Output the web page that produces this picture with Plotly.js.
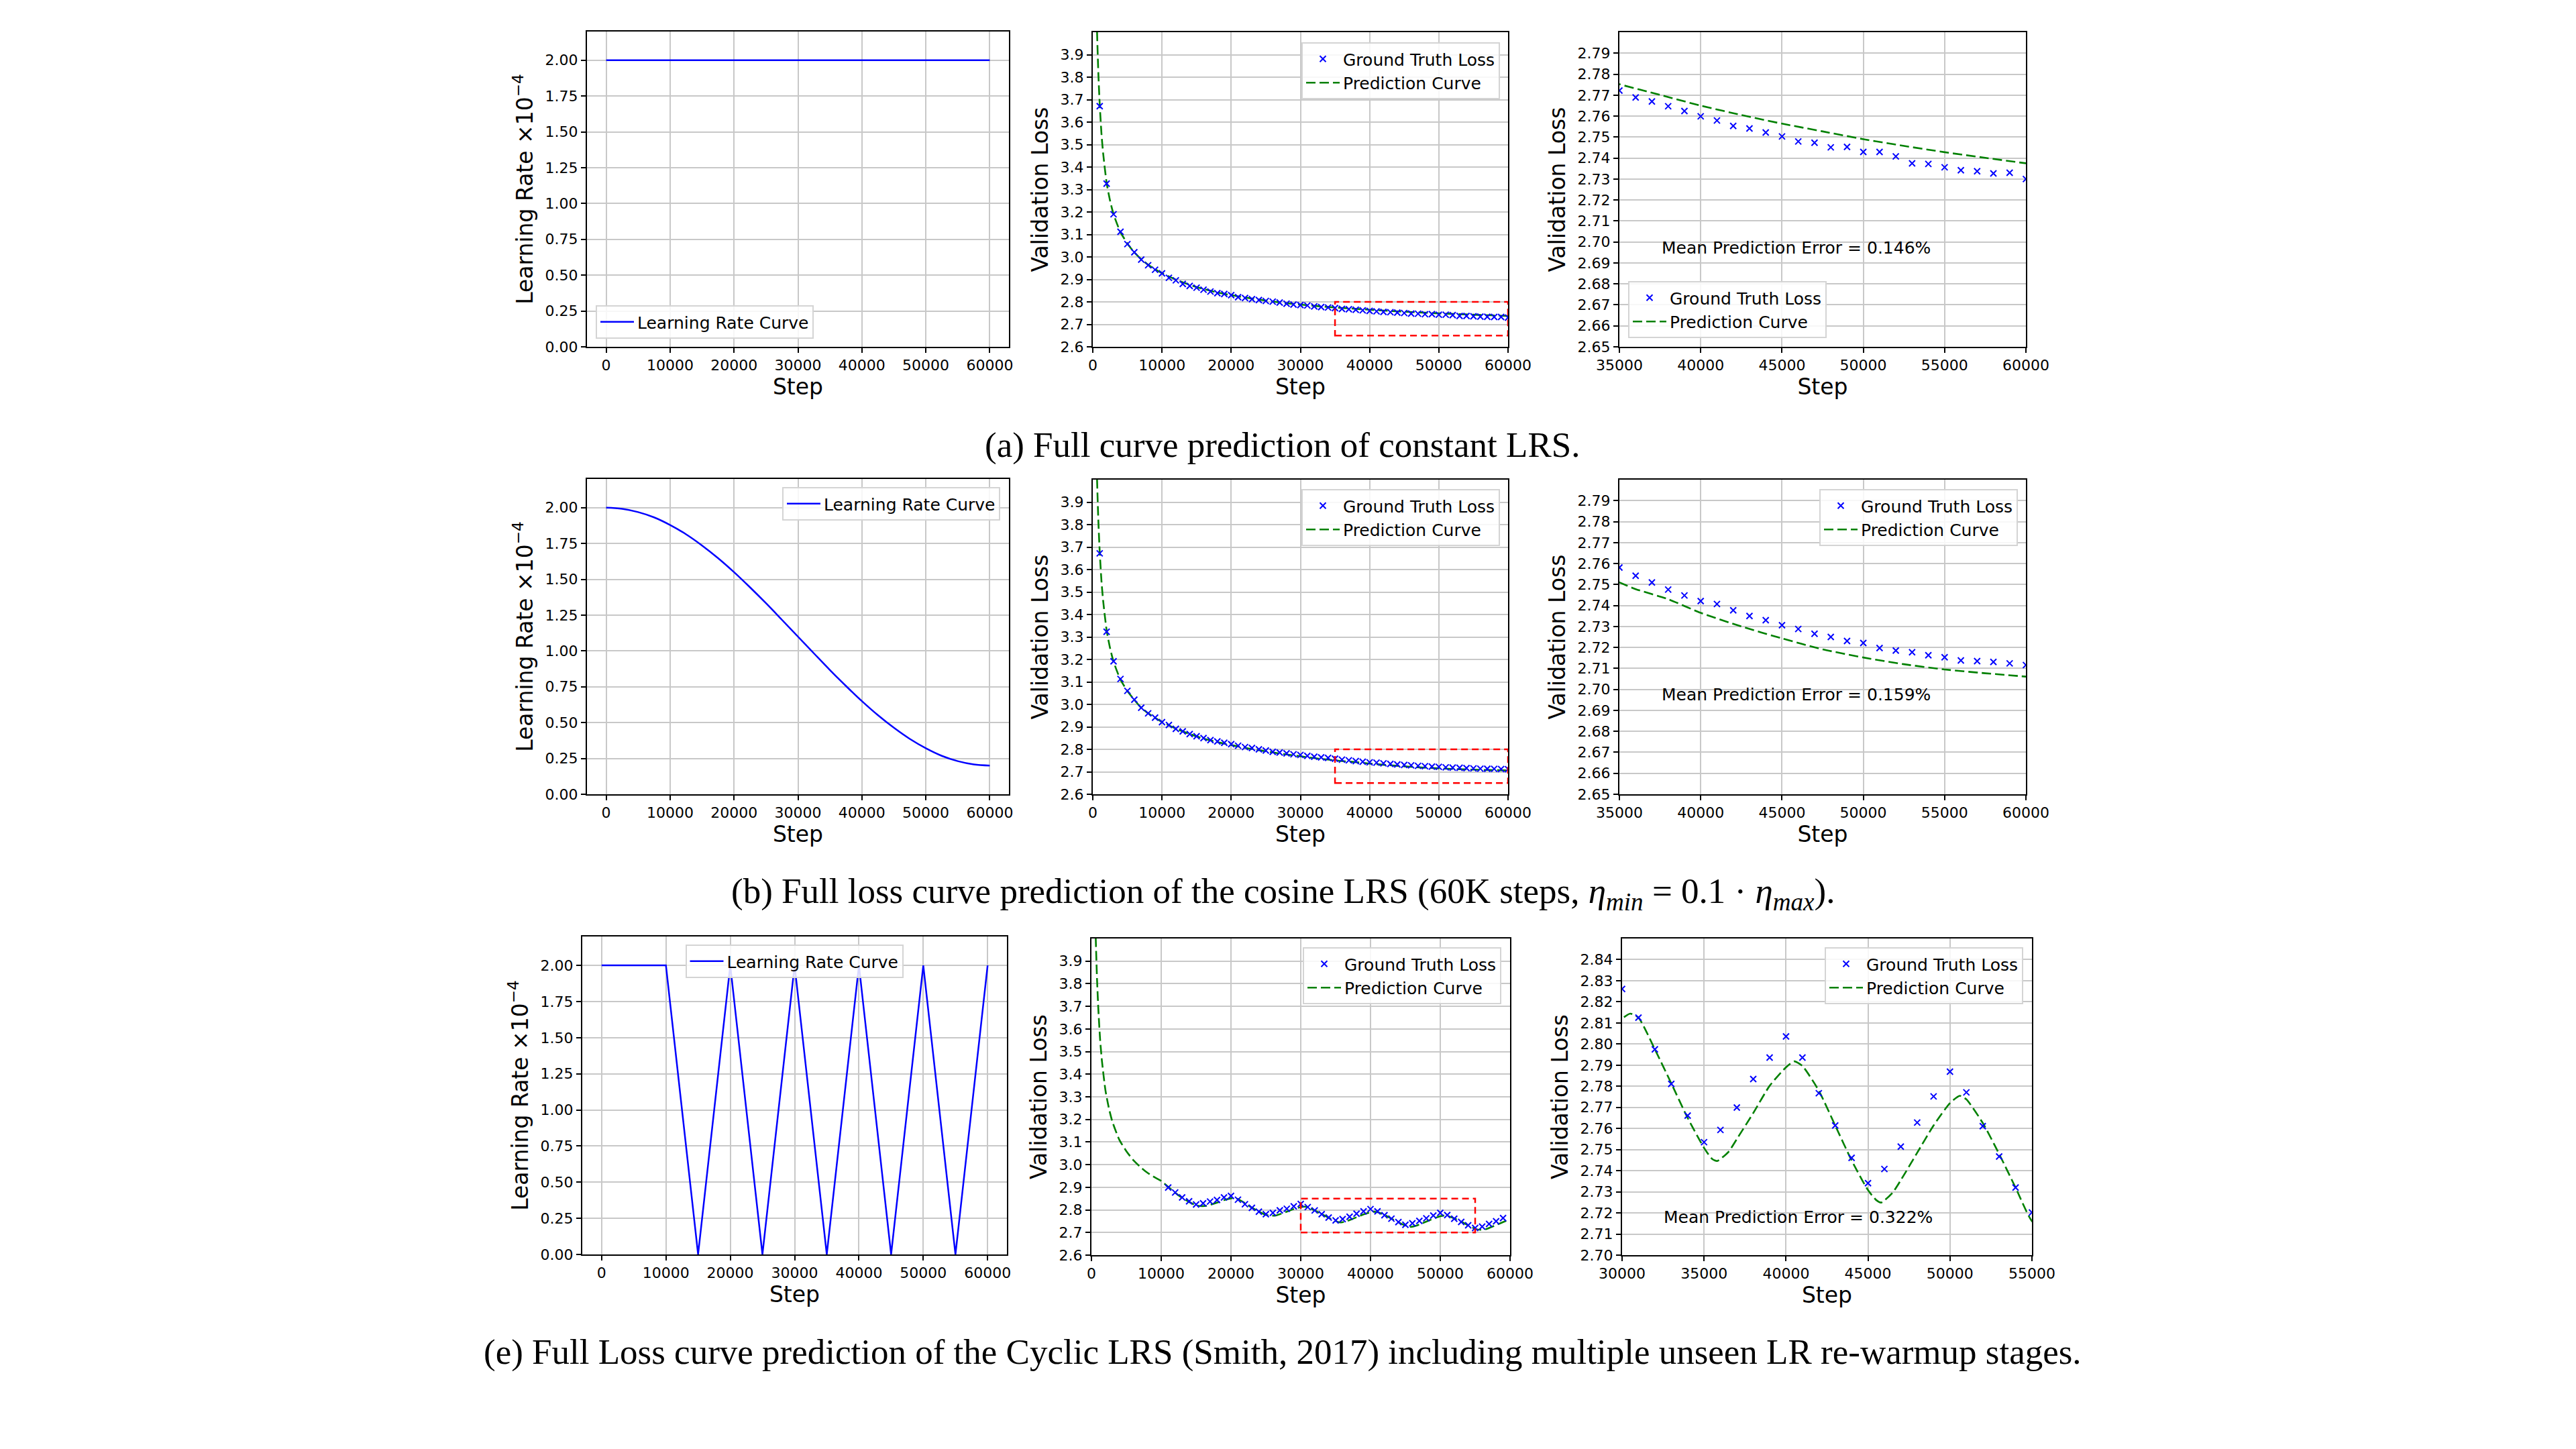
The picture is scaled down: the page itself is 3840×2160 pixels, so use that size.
<!DOCTYPE html>
<html>
<head>
<meta charset="utf-8">
<script src="https://cdn.plot.ly/plotly-3.0.1.min.js"></script>
<style>html,body{margin:0;padding:0;background:#fff}#chart{width:3840px;height:2160px}</style>
</head>
<body>
<div id="chart"></div>
<script>
// ---------------- DATA ----------------
// Learning-rate schedules (x10^-4)
const lrStepsConst = [0, 60000];
const lrConst = [2.0, 2.0];

const lrStepsCos = [0, 2500, 5000, 7500, 10000, 12500, 15000, 17500, 20000, 22500, 25000, 27500, 30000,
  32500, 35000, 37500, 40000, 42500, 45000, 47500, 50000, 52500, 55000, 57500, 60000];
const lrCos = [2.000, 1.992, 1.969, 1.932, 1.879, 1.814, 1.736, 1.648, 1.550, 1.444, 1.333, 1.217, 1.100,
  0.983, 0.867, 0.756, 0.650, 0.552, 0.464, 0.386, 0.321, 0.268, 0.231, 0.208, 0.200];

const lrStepsCyc = [0, 10000, 15000, 20000, 25000, 30000, 35000, 40000, 45000, 50000, 55000, 60000];
const lrCyc = [2.0, 2.0, 0.0, 2.0, 0.0, 2.0, 0.0, 2.0, 0.0, 2.0, 0.0, 2.0];

// Ground-truth validation loss
const gtSteps = [1000, 2000, 3000, 4000, 5000, 6000, 7000, 8000, 9000, 10000,
  11000, 12000, 13000, 14000, 15000, 16000, 17000, 18000, 19000, 20000,
  21000, 22000, 23000, 24000, 25000, 26000, 27000, 28000, 29000, 30000,
  31000, 32000, 33000, 34000, 35000, 36000, 37000, 38000, 39000, 40000,
  41000, 42000, 43000, 44000, 45000, 46000, 47000, 48000, 49000, 50000,
  51000, 52000, 53000, 54000, 55000, 56000, 57000, 58000, 59000, 60000];
const gtConst = [3.671, 3.326, 3.190, 3.112, 3.057, 3.021, 2.988, 2.963, 2.943, 2.927,
  2.907, 2.896, 2.880, 2.871, 2.863, 2.854, 2.846, 2.839, 2.835, 2.830,
  2.821, 2.817, 2.812, 2.808, 2.804, 2.801, 2.797, 2.792, 2.788, 2.786,
  2.784, 2.780, 2.777, 2.775, 2.7722, 2.7689, 2.7670, 2.7647, 2.7624, 2.7599,
  2.7579, 2.7553, 2.7541, 2.7522, 2.7503, 2.7479, 2.7473, 2.7451, 2.7453, 2.7429,
  2.7429, 2.7408, 2.7375, 2.7372, 2.7356, 2.7342, 2.7337, 2.7327, 2.7330, 2.7300];
const gtCos = [3.672, 3.323, 3.192, 3.113, 3.060, 3.021, 2.985, 2.960, 2.941, 2.921,
  2.908, 2.891, 2.880, 2.868, 2.858, 2.850, 2.841, 2.835, 2.829, 2.823,
  2.816, 2.810, 2.806, 2.800, 2.795, 2.789, 2.786, 2.782, 2.778, 2.775,
  2.771, 2.767, 2.764, 2.762, 2.7581, 2.7542, 2.7510, 2.7476, 2.7448, 2.7421,
  2.7407, 2.7377, 2.7350, 2.7330, 2.7306, 2.7288, 2.7265, 2.7250, 2.7231, 2.7221,
  2.7197, 2.7185, 2.7177, 2.7163, 2.7153, 2.7138, 2.7135, 2.7131, 2.7124, 2.7116];
const gtStepsCyc = [11000, 12000, 13000, 14000, 15000, 16000, 17000, 18000, 19000, 20000,
  21000, 22000, 23000, 24000, 25000, 26000, 27000, 28000, 29000, 30000,
  31000, 32000, 33000, 34000, 35000, 36000, 37000, 38000, 39000, 40000,
  41000, 42000, 43000, 44000, 45000, 46000, 47000, 48000, 49000, 50000,
  51000, 52000, 53000, 54000, 55000, 56000, 57000, 58000, 59000];
const gtCyc = [2.899, 2.877, 2.855, 2.838, 2.824, 2.829, 2.837, 2.844, 2.855, 2.862,
  2.845, 2.825, 2.809, 2.792, 2.781, 2.787, 2.798, 2.805, 2.816, 2.8261,
  2.8125, 2.7975, 2.7811, 2.7661, 2.7535, 2.7593, 2.7699, 2.7834, 2.7936, 2.8036,
  2.7936, 2.7767, 2.7614, 2.7461, 2.7341, 2.7408, 2.7514, 2.7628, 2.7752, 2.7869,
  2.7771, 2.7611, 2.7467, 2.7320, 2.7202, 2.726, 2.738, 2.750, 2.764];

// Prediction curves
const predStepsConst = [400, 600, 800, 1000, 1250, 1500, 2000, 2500, 3000, 4000, 5000, 6000, 7000, 8000, 9000, 10000,
  12000, 14000, 16000, 18000, 20000, 22500, 25000, 27500, 30000, 32500, 35000, 37500, 40000, 42500, 45000,
  47500, 50000, 52500, 55000, 57500, 60000];
const predConst = [4.30, 4.02, 3.82, 3.68, 3.55, 3.46, 3.33, 3.25, 3.19, 3.11, 3.06, 3.02, 2.99, 2.965, 2.945, 2.928,
  2.899, 2.876, 2.857, 2.842, 2.830, 2.817, 2.806, 2.796, 2.788, 2.781, 2.7752, 2.7701, 2.7650, 2.7605, 2.7564,
  2.7527, 2.7490, 2.7458, 2.7428, 2.7401, 2.7375];
const predStepsCos = [400, 600, 800, 1000, 1250, 1500, 2000, 2500, 3000, 4000, 5000, 6000, 7000, 8000, 9000, 10000,
  12000, 14000, 16000, 18000, 20000, 22500, 25000, 27500, 30000, 32500, 35000, 36000, 38000, 40000, 42500,
  45000, 47500, 50000, 52500, 55000, 57500, 60000];
const predCos = [4.30, 4.02, 3.82, 3.68, 3.55, 3.46, 3.33, 3.25, 3.19, 3.11, 3.06, 3.02, 2.985, 2.96, 2.94, 2.922,
  2.892, 2.868, 2.848, 2.832, 2.819, 2.804, 2.791, 2.779, 2.769, 2.759, 2.7510, 2.7478, 2.7430, 2.7365, 2.7300,
  2.7243, 2.7191, 2.7152, 2.7120, 2.7095, 2.7077, 2.7061];
const predStepsCyc = [400, 600, 800, 1000, 1250, 1500, 2000, 2500, 3000, 4000, 5000, 6000, 7000, 8000, 9000, 10000,
  11000, 12000, 13000, 14000, 15000, 15800, 16500, 17000, 18000, 19000, 20000, 20500, 21000, 22000, 23000, 24000,
  25000, 25800, 26500, 27000, 28000, 29000, 30000, 30500, 31000, 32000, 33000, 34000, 35000, 35500, 35800, 36500,
  37000, 38000, 39000, 40000, 40500, 41000, 42000, 43000, 44000, 45000, 45500, 45800, 46500, 47000, 48000, 49000,
  50000, 50600, 51000, 52000, 53000, 54000, 55000, 55800, 56500, 57000, 58000, 59000, 60000];
const predCyc = [4.30, 4.02, 3.82, 3.68, 3.55, 3.46, 3.33, 3.25, 3.19, 3.11, 3.06, 3.02, 2.99, 2.965, 2.945, 2.928,
  2.902, 2.876, 2.853, 2.835, 2.820, 2.817, 2.818, 2.822, 2.832, 2.843, 2.851, 2.853, 2.848, 2.830, 2.810, 2.792,
  2.778, 2.774, 2.776, 2.781, 2.792, 2.804, 2.812, 2.8144, 2.8125, 2.7975, 2.7814, 2.765, 2.7508, 2.7455, 2.7446, 2.749,
  2.755, 2.7673, 2.7802, 2.789, 2.7918, 2.7896, 2.7779, 2.7614, 2.7449, 2.7308, 2.7261, 2.7249, 2.7296, 2.7355, 2.7485, 2.7614,
  2.772, 2.7755, 2.7738, 2.7626, 2.7479, 2.732, 2.7161, 2.712, 2.714, 2.72, 2.733, 2.746, 2.759];

// Tick values
const stepTicksFull = [0, 10000, 20000, 30000, 40000, 50000, 60000];
const stepTicksZoomA = [35000, 40000, 45000, 50000, 55000, 60000];
const stepTicksZoomE = [30000, 35000, 40000, 45000, 50000, 55000];
const lrTicks = [0, 0.25, 0.5, 0.75, 1.0, 1.25, 1.5, 1.75, 2.0];
const lossTicksFull = [2.6, 2.7, 2.8, 2.9, 3.0, 3.1, 3.2, 3.3, 3.4, 3.5, 3.6, 3.7, 3.8, 3.9];
const lossTicksZoomA = [2.65, 2.66, 2.67, 2.68, 2.69, 2.70, 2.71, 2.72, 2.73, 2.74, 2.75, 2.76, 2.77, 2.78, 2.79];
const lossTicksZoomE = [2.70, 2.71, 2.72, 2.73, 2.74, 2.75, 2.76, 2.77, 2.78, 2.79, 2.80, 2.81, 2.82, 2.83, 2.84];

const captions = [
  "(a) Full curve prediction of constant LRS.",
  "(b) Full loss curve prediction of the cosine LRS (60K steps, <i>η</i><sub><i>min</i></sub> = 0.1 · <i>η</i><sub><i>max</i></sub>).",
  "(e) Full Loss curve prediction of the Cyclic LRS (Smith, 2017) including multiple unseen LR re-warmup stages."
];
const mpeTexts = ["Mean Prediction Error = 0.146%", "Mean Prediction Error = 0.159%", "Mean Prediction Error = 0.322%"];

// ---------------- STYLE / LAYOUT ----------------
const W = 3840, H = 2160;
const FONT = 'DejaVu Sans';
const px2x = p => p / W;
const px2y = p => 1 - p / H;

// axes pixel boxes [left, right, top, bottom]
const boxes = [
  [875, 1504, 47, 517], [1629, 2248, 48, 517], [2414, 3020, 48, 517],
  [875, 1504, 714, 1184], [1629, 2248, 715, 1184], [2414, 3020, 715, 1184],
  [868, 1501, 1396, 1870], [1627, 2251, 1399, 1871], [2418, 3029, 1399, 1871]
];

function xAxis(i, range, tickvals, fmt) {
  const b = boxes[i];
  return {
    domain: [px2x(b[0]), px2x(b[1])], anchor: 'y' + (i ? i + 1 : ''), range: range,
    tickmode: 'array', tickvals: tickvals, tickformat: fmt,
    showgrid: true, gridcolor: '#c8c8c8', gridwidth: 2, zeroline: false,
    showline: true, mirror: true, linecolor: '#000', linewidth: 2,
    ticks: 'outside', ticklen: 7, tickwidth: 2, tickcolor: '#000',
    tickfont: {family: FONT, size: 22, color: '#000'},
    title: {text: 'Step', font: {family: FONT, size: 33, color: '#000'}, standoff: 4},
    automargin: false
  };
}
function yAxis(i, range, tickvals, fmt, title) {
  const b = boxes[i];
  return {
    domain: [px2y(b[3]), px2y(b[2])], anchor: 'x' + (i ? i + 1 : ''), range: range,
    tickmode: 'array', tickvals: tickvals, tickformat: fmt,
    showgrid: true, gridcolor: '#c8c8c8', gridwidth: 2, zeroline: false,
    showline: true, mirror: true, linecolor: '#000', linewidth: 2,
    ticks: 'outside', ticklen: 7, tickwidth: 2, tickcolor: '#000',
    tickfont: {family: FONT, size: 22, color: '#000'},
    title: {text: title, font: {family: FONT, size: 33, color: '#000'}, standoff: 8},
    automargin: false
  };
}

const LR_TITLE = 'Learning Rate ×10<sup>−4</sup>';
const LOSS_TITLE = 'Validation Loss';

const layout = {
  width: W, height: H, margin: {l: 0, r: 0, t: 0, b: 0},
  paper_bgcolor: '#fff', plot_bgcolor: '#fff', showlegend: true,
  font: {family: FONT, color: '#000'},
  shapes: [], annotations: []
};

const xRanges = [[-3000, 63000], [0, 60000], [35000, 60000]];
const rowsCfg = [
  {lrx: lrStepsConst, lry: lrConst, gty: gtConst, gtx: gtSteps, px: predStepsConst, py: predConst,
   zoomX: [35000, 60000], zoomY: [2.65, 2.80], zTicksX: stepTicksZoomA, zTicksY: lossTicksZoomA},
  {lrx: lrStepsCos, lry: lrCos, gty: gtCos, gtx: gtSteps, px: predStepsCos, py: predCos,
   zoomX: [35000, 60000], zoomY: [2.65, 2.80], zTicksX: stepTicksZoomA, zTicksY: lossTicksZoomA},
  {lrx: lrStepsCyc, lry: lrCyc, gty: gtCyc, gtx: gtStepsCyc, px: predStepsCyc, py: predCyc,
   zoomX: [30000, 55000], zoomY: [2.70, 2.85], zTicksX: stepTicksZoomE, zTicksY: lossTicksZoomE}
];

const traces = [];
const legBase = {bgcolor: 'rgba(255,255,255,0.85)', bordercolor: '#d4d4d4', borderwidth: 2,
  font: {family: FONT, size: 25, color: '#000'}, tracegroupgap: 0, itemwidth: 50};
const legendPos = [
  {x: 888, y: 505, xa: 'left', ya: 'bottom'},
  {x: 2236, y: 63, xa: 'right', ya: 'top'},
  {x: 2427, y: 504, xa: 'left', ya: 'bottom'},
  {x: 1491, y: 726, xa: 'right', ya: 'top'},
  {x: 2236, y: 729, xa: 'right', ya: 'top'},
  {x: 3008, y: 729, xa: 'right', ya: 'top'},
  {x: 1184, y: 1408, xa: 'center', ya: 'top'},
  {x: 2238, y: 1412, xa: 'right', ya: 'top'},
  {x: 3016, y: 1412, xa: 'right', ya: 'top'}
];
legendPos.forEach((p, i) => {
  layout['legend' + (i ? i + 1 : '')] = Object.assign({}, legBase,
    {x: px2x(p.x), y: px2y(p.y), xanchor: p.xa, yanchor: p.ya});
});

const mpePos = [[0.100, 0.315], [0.100, 0.317], [0.099, 0.119]];

rowsCfg.forEach((r, ri) => {
  const i1 = ri * 3, i2 = ri * 3 + 1, i3 = ri * 3 + 2;
  const ax = i => (i ? String(i + 1) : '');
  // LR panel
  layout['xaxis' + ax(i1)] = xAxis(i1, xRanges[0], stepTicksFull, 'd');
  layout['yaxis' + ax(i1)] = yAxis(i1, [0, 2.2], lrTicks, '.2f', LR_TITLE);
  traces.push({type: 'scatter', mode: 'lines', x: r.lrx, y: r.lry, name: 'Learning Rate Curve',
    xaxis: 'x' + ax(i1), yaxis: 'y' + ax(i1), legend: 'legend' + ax(i1),
    line: {color: '#0000ff', width: 2.5, shape: ri === 1 ? 'spline' : 'linear'}});
  // full loss panel
  layout['xaxis' + ax(i2)] = xAxis(i2, xRanges[1], stepTicksFull, 'd');
  layout['yaxis' + ax(i2)] = yAxis(i2, [2.6, 4.0], lossTicksFull, '.1f', LOSS_TITLE);
  // zoom panel
  layout['xaxis' + ax(i3)] = xAxis(i3, r.zoomX, r.zTicksX, 'd');
  layout['yaxis' + ax(i3)] = yAxis(i3, r.zoomY, r.zTicksY, '.2f', LOSS_TITLE);
  [i2, i3].forEach(k => {
    traces.push({type: 'scatter', mode: 'lines', x: r.px, y: r.py, name: 'Prediction Curve',
      xaxis: 'x' + ax(k), yaxis: 'y' + ax(k), legend: 'legend' + ax(k), legendrank: 2,
      line: {color: '#008000', width: 2.6, dash: '14px,6px', shape: 'spline', smoothing: 0.6}});
    traces.push({type: 'scatter', mode: 'markers', x: r.gtx, y: r.gty, name: 'Ground Truth Loss',
      xaxis: 'x' + ax(k), yaxis: 'y' + ax(k), legend: 'legend' + ax(k), legendrank: 1,
      marker: {symbol: 'x-thin', size: 9, color: '#0000ff', line: {color: '#0000ff', width: 2}}});
  });
  // red dashed zoom rectangle
  layout.shapes.push({type: 'rect', xref: 'x' + ax(i2), yref: 'y' + ax(i2),
    x0: r.zoomX[0], x1: r.zoomX[1], y0: r.zoomY[0], y1: r.zoomY[1],
    line: {color: '#ff0000', width: 2.5, dash: '10px,6px'}, fillcolor: 'rgba(0,0,0,0)'});
  // MPE annotation
  layout.annotations.push({xref: 'x' + ax(i3) + ' domain', yref: 'y' + ax(i3) + ' domain',
    x: mpePos[ri][0], y: mpePos[ri][1], xanchor: 'left', yanchor: 'middle', showarrow: false,
    text: mpeTexts[ri], font: {family: FONT, size: 25, color: '#000'}});
});

const capY = [663, 1332, 2015];
captions.forEach((c, i) => {
  layout.annotations.push({xref: 'paper', yref: 'paper', x: px2x(1912), y: px2y(capY[i]),
    xanchor: 'center', yanchor: 'middle', showarrow: false, text: c,
    font: {family: 'Liberation Serif', size: 53, color: '#000'}});
});

Plotly.newPlot('chart', traces, layout, {staticPlot: true, displayModeBar: false});
</script>
</body>
</html>
